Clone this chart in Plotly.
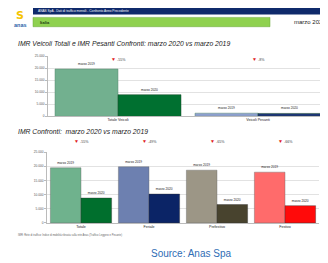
import plotly.graph_objects as go

# The page body has an 8px default margin: lay out in reference pixels, offset by 8.
OFF = 8
W, H = 328 - OFF, 263 - OFF

# Chart 1 data
cat1 = ["Totale Veicoli", "Veicoli Pesanti"]
v1_2019 = [19700, 1300]
v1_2020 = [9000, 1200]
pct1 = ["-55%", "-8%"]

# Chart 2 data
cat2 = ["Totale", "Feriale", "Prefestivo", "Festivo"]
v2_2019 = [19500, 19850, 18650, 17950]
v2_2020 = [8800, 10200, 6500, 6100]
pct2 = ["-55%", "-49%", "-65%", "-66%"]

yticks = [0, 5000, 10000, 15000, 20000, 25000]
ytick_text = ["0", "5.000", "10.000", "15.000", "20.000", "25.000"]

c1_light = ["#72b08f", "#8d9fcf"]
c1_dark = ["#007030", "#1d3576"]
c2_light = ["#6fb28d", "#6d80b0", "#9c9686", "#ff6b6b"]
c2_dark = ["#006f2d", "#0b2466", "#48432e", "#ff0a0a"]


def py(px):
    return 1 - (px - OFF) / H


def pxx(px):
    return (px - OFF) / W


fig = go.Figure()

lab_font = dict(size=3.2, color="#222222")

fig.add_trace(go.Bar(x=cat1, y=v1_2019, marker=dict(color=c1_light, line=dict(color="#5a8a70", width=0.5)),
                     text=["marzo 2019"] * 2, textposition="outside", textfont=lab_font,
                     xaxis="x", yaxis="y", cliponaxis=False, showlegend=False))
fig.add_trace(go.Bar(x=cat1, y=v1_2020, marker=dict(color=c1_dark, line=dict(color="#1a4a2a", width=0.5)),
                     text=["marzo 2020"] * 2, textposition="outside", textfont=lab_font,
                     xaxis="x", yaxis="y", cliponaxis=False, showlegend=False))
fig.add_trace(go.Bar(x=cat2, y=v2_2019, marker=dict(color=c2_light, line=dict(color="#666666", width=0.4)),
                     text=["marzo 2019"] * 4, textposition="outside", textfont=lab_font,
                     xaxis="x2", yaxis="y2", cliponaxis=False, showlegend=False))
fig.add_trace(go.Bar(x=cat2, y=v2_2020, marker=dict(color=c2_dark, line=dict(color="#333333", width=0.4)),
                     text=["marzo 2020"] * 4, textposition="outside", textfont=lab_font,
                     xaxis="x2", yaxis="y2", cliponaxis=False, showlegend=False))

axis_common = dict(showgrid=False, showline=True, linecolor="#bbbbbb", linewidth=0.6,
                   ticks="", tickfont=dict(size=3.6, color="#222222", family="Liberation Sans"))
yaxis_common = dict(range=[0, 25000], tickvals=yticks, ticktext=ytick_text, showgrid=True,
                    gridcolor="#e2e2e2", gridwidth=0.5, showline=True, linecolor="#bbbbbb", linewidth=0.6,
                    ticks="outside", ticklen=2, tickcolor="#bbbbbb", zeroline=False,
                    tickfont=dict(size=3.2, color="#555555", family="Liberation Sans"))

fig.update_layout(
    width=W, height=H, margin=dict(l=0, r=0, t=0, b=0),
    paper_bgcolor="white", plot_bgcolor="white",
    barmode="group", bargap=0.1, bargroupgap=0,
    xaxis=dict(domain=[pxx(48), 1.0], anchor="y", **axis_common),
    yaxis=dict(domain=[py(116), py(55)], anchor="x", **yaxis_common),
    xaxis2=dict(domain=[pxx(47), pxx(319)], anchor="y2", **axis_common),
    yaxis2=dict(domain=[py(224.3), py(152.5)], anchor="x2", **yaxis_common),
    font=dict(family="Liberation Sans"),
)

shapes = [
    dict(type="rect", xref="paper", yref="paper", x0=pxx(33), x1=1.0, y0=py(12.5), y1=py(6),
         fillcolor="#0f2a6b", line=dict(width=0)),
    dict(type="rect", xref="paper", yref="paper", x0=pxx(33), x1=pxx(270), y0=py(25), y1=py(15.5),
         fillcolor="#8fd14f", line=dict(color="#6aa83a", width=0.5)),
]
fig.update_layout(shapes=shapes)

ann = []
ann.append(dict(text="ANAS SpA - Dati di traffico mensili - Confronto Anno Precedente", x=pxx(36), y=py(9.3),
                xref="paper", yref="paper", xanchor="left", yanchor="middle", showarrow=False,
                font=dict(size=3.2, color="white")))
ann.append(dict(text="<b>Italia</b>", x=pxx(38), y=py(20.3), xref="paper", yref="paper", xanchor="left",
                yanchor="middle", showarrow=False, font=dict(size=4, color="#1a3a10")))
ann.append(dict(text="marzo 2020", x=pxx(292), y=py(20.5), xref="paper", yref="paper", xanchor="left",
                yanchor="middle", showarrow=False, font=dict(size=6, color="#222222")))
# logo
ann.append(dict(text="<b>S</b>", x=pxx(20), y=py(14), xref="paper", yref="paper", xanchor="center",
                yanchor="middle", showarrow=False, font=dict(size=11, color="#f5c400", family="DejaVu Sans")))
ann.append(dict(text="<b>anas</b>", x=pxx(20), y=py(23.5), xref="paper", yref="paper", xanchor="center",
                yanchor="middle", showarrow=False, font=dict(size=5.5, color="#2a5fa8")))
# titles
ann.append(dict(text="<i>IMR Veicoli Totali e IMR Pesanti Confronti: marzo 2020 vs marzo 2019</i>",
                x=pxx(16), y=py(42.5), xref="paper", yref="paper", xanchor="left", yanchor="middle",
                showarrow=False, font=dict(size=6.8, color="#1a1a1a")))
ann.append(dict(text="<i>IMR Confronti:  marzo 2020 vs marzo 2019</i>",
                x=pxx(16), y=py(131), xref="paper", yref="paper", xanchor="left", yanchor="middle",
                showarrow=False, font=dict(size=6.8, color="#1a1a1a")))
# percent markers
for c, p in zip(cat1, pct1):
    ann.append(dict(text="<span style='color:#e02020;font-size:5px'>▼</span> " + p, x=c, y=py(57.5),
                    xref="x", yref="paper", yanchor="middle", xanchor="center", showarrow=False,
                    font=dict(size=3.6, color="#444444")))
for c, p in zip(cat2, pct2):
    ann.append(dict(text="<span style='color:#e02020;font-size:5px'>▼</span> " + p, x=c, y=py(141),
                    xref="x2", yref="paper", yanchor="middle", xanchor="center", showarrow=False,
                    font=dict(size=3.6, color="#444444")))
# footnote
ann.append(dict(text="IMR: Rete di traffico: Indice di mobilità rilevata sulla rete Anas (Traffico Leggero e Pesante)",
                x=pxx(16), y=py(236.5), xref="paper", yref="paper", xanchor="left", yanchor="middle",
                showarrow=False, font=dict(size=2.6, color="#666666")))
# source
ann.append(dict(text="Source: Anas Spa", x=pxx(191), y=py(255), xref="paper", yref="paper",
                xanchor="center", yanchor="middle", showarrow=False,
                font=dict(size=10, color="#2f6db5", family="Liberation Sans")))
fig.update_layout(annotations=ann)

fig.write_html("out.html")
